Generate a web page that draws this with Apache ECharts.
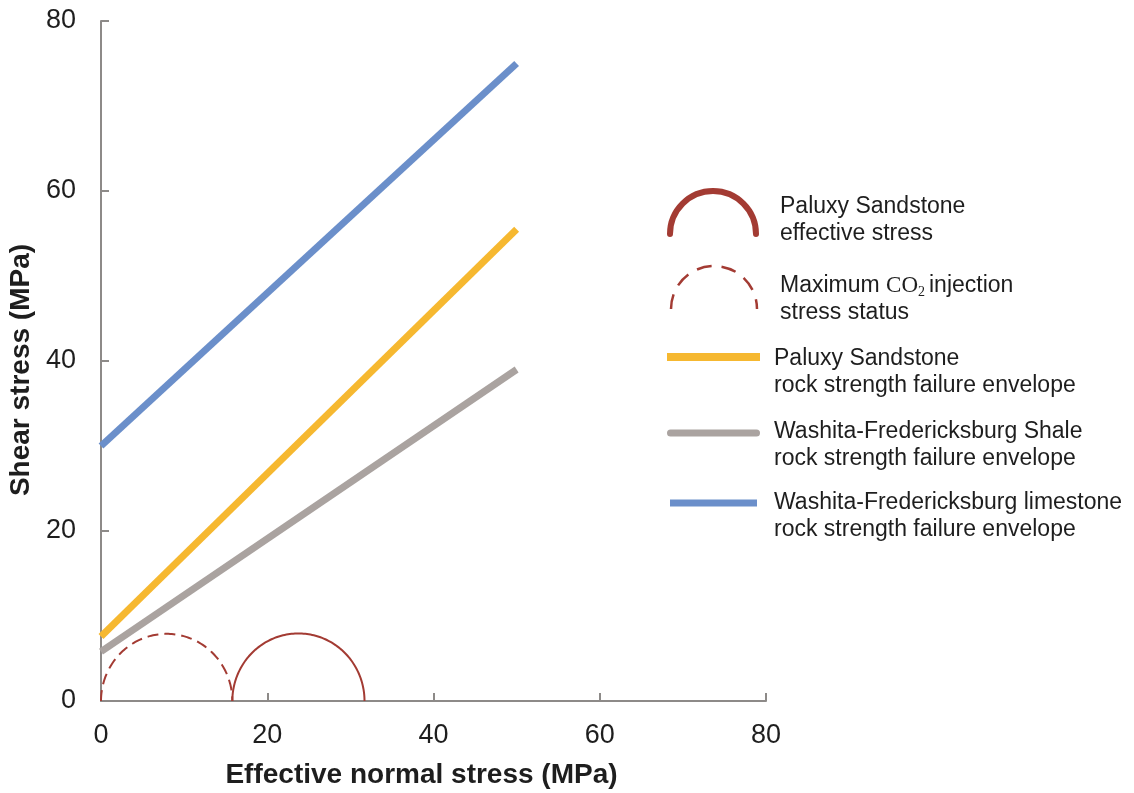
<!DOCTYPE html>
<html>
<head>
<meta charset="utf-8">
<script src="https://cdn.jsdelivr.net/npm/echarts@6/dist/echarts.min.js"></script>
<style>
  html, body { margin: 0; padding: 0; background: #ffffff; }
  #chart { width: 1134px; height: 793px; }
</style>
</head>
<body>
<div id="chart"></div>
<script>
// Mohr–Coulomb failure envelopes and Mohr circles (values in MPa)
const envelopeNormal = [0, 50];          // effective normal stress at envelope ends
const limestoneEnvelope = [30, 75];      // Washita-Fredericksburg limestone
const sandstoneEnvelope = [7.6, 55.5];   // Paluxy Sandstone
const shaleEnvelope = [5.8, 39];         // Washita-Fredericksburg Shale

// Mohr circles as [sigma3, sigma1]
const paluxyStress = [15.8, 31.7];       // Paluxy Sandstone effective stress
const co2InjectionStress = [0, 15.8];    // maximum CO2 injection stress status

const axisTicks = [0, 20, 40, 60, 80];

const FONT = "'Liberation Sans', Arial, Helvetica, sans-serif";
const SERIF = "'Liberation Serif', 'Times New Roman', serif";
const AXIS_COLOR = '#8d8a88';
const TEXT_COLOR = '#1e1e1e';
const RED = '#a33b33';
const COLORS = { limestone: '#6b8fca', sandstone: '#f6b830', shale: '#aaa3a0' };

function pairs(xs, ys) {
  return xs.map((x, i) => [x, ys[i]]);
}

// upper half of a Mohr circle, traced in data space through the axes
function mohrRenderer(dashed) {
  return function (params, api) {
    const s3 = api.value(0);
    const s1 = api.value(1);
    const c = (s1 + s3) / 2;
    const r = (s1 - s3) / 2;
    const pts = [];
    const n = 120;
    for (let i = 0; i <= n; i++) {
      const t = Math.PI * i / n;
      pts.push(api.coord([c - r * Math.cos(t), r * Math.sin(t)]));
    }
    return {
      type: 'polyline',
      shape: { points: pts },
      style: {
        stroke: RED,
        lineWidth: 2,
        fill: null,
        lineDash: dashed ? [11, 6] : null
      }
    };
  };
}

const chart = echarts.init(document.getElementById('chart'), null, { renderer: 'canvas' });

const legendText = {
  fontFamily: FONT,
  fontSize: 23,
  lineHeight: 27,
  fill: TEXT_COLOR,
  verticalAlign: 'top'
};

function legendLabel(text, left, top) {
  return { type: 'text', left: left, top: top, style: Object.assign({ text: text }, legendText) };
}

chart.setOption({
  animation: false,
  backgroundColor: '#ffffff',
  grid: { left: 101, right: 368, top: 21, bottom: 92, containLabel: false, outerBoundsMode: 'none' },
  xAxis: {
    type: 'value',
    min: axisTicks[0],
    max: axisTicks[axisTicks.length - 1],
    interval: 20,
    name: 'Effective normal stress (MPa)',
    nameLocation: 'middle',
    nameGap: 60,
    nameTextStyle: { fontFamily: FONT, fontSize: 28, fontWeight: 'bold', color: TEXT_COLOR, padding: [0, 24, 0, 0] },
    axisLine: { show: true, lineStyle: { color: AXIS_COLOR, width: 2 } },
    axisTick: { show: true, inside: true, length: 8, lineStyle: { color: AXIS_COLOR, width: 2 } },
    axisLabel: { margin: 21, fontFamily: FONT, fontSize: 27, color: TEXT_COLOR },
    splitLine: { show: false }
  },
  yAxis: {
    type: 'value',
    min: axisTicks[0],
    max: axisTicks[axisTicks.length - 1],
    interval: 20,
    name: 'Shear stress (MPa)',
    nameLocation: 'middle',
    nameGap: 66,
    nameTextStyle: { fontFamily: FONT, fontSize: 28, fontWeight: 'bold', color: TEXT_COLOR, padding: [0, 18, 0, 0] },
    axisLine: { show: true, lineStyle: { color: AXIS_COLOR, width: 2 } },
    axisTick: { show: true, inside: true, length: 8, lineStyle: { color: AXIS_COLOR, width: 2 } },
    axisLabel: { margin: 25, fontFamily: FONT, fontSize: 27, color: TEXT_COLOR },
    splitLine: { show: false }
  },
  series: [
    {
      name: 'Maximum CO2 injection stress status',
      type: 'custom',
      renderItem: mohrRenderer(true),
      data: [co2InjectionStress],
      encode: { x: 0, y: 1 },
      z: 3
    },
    {
      name: 'Paluxy Sandstone effective stress',
      type: 'custom',
      renderItem: mohrRenderer(false),
      data: [paluxyStress],
      encode: { x: 0, y: 1 },
      z: 3
    },
    {
      name: 'Washita-Fredericksburg Shale rock strength failure envelope',
      type: 'line',
      data: pairs(envelopeNormal, shaleEnvelope),
      showSymbol: false,
      lineStyle: { color: COLORS.shale, width: 7, cap: 'butt' },
      z: 2
    },
    {
      name: 'Paluxy Sandstone rock strength failure envelope',
      type: 'line',
      data: pairs(envelopeNormal, sandstoneEnvelope),
      showSymbol: false,
      lineStyle: { color: COLORS.sandstone, width: 7, cap: 'butt' },
      z: 2
    },
    {
      name: 'Washita-Fredericksburg limestone rock strength failure envelope',
      type: 'line',
      data: pairs(envelopeNormal, limestoneEnvelope),
      showSymbol: false,
      lineStyle: { color: COLORS.limestone, width: 7, cap: 'butt' },
      z: 2
    }
  ],
  graphic: [
    // key: effective stress circle
    {
      type: 'arc',
      shape: { cx: 713, cy: 234, r: 43, startAngle: Math.PI, endAngle: 2 * Math.PI, clockwise: true },
      style: { stroke: RED, lineWidth: 6, fill: null, lineCap: 'round' }
    },
    legendLabel('Paluxy Sandstone\neffective stress', 780, 193),
    // key: CO2 injection circle
    {
      type: 'arc',
      shape: { cx: 714, cy: 309, r: 43, startAngle: Math.PI, endAngle: 2 * Math.PI, clockwise: true },
      style: { stroke: RED, lineWidth: 2.5, fill: null, lineDash: [15, 10] }
    },
    {
      type: 'text', left: 780, top: 273,
      style: {
        text: '{t|Maximum }{co|CO}{sub|2}{t|injection}\n{t|stress status}',
        fill: TEXT_COLOR,
        rich: {
          t: { fontFamily: FONT, fontSize: 23, lineHeight: 27, fill: TEXT_COLOR },
          co: { fontFamily: SERIF, fontSize: 23, lineHeight: 27, fill: TEXT_COLOR },
          sub: { fontFamily: SERIF, fontSize: 14, lineHeight: 27, padding: [12, 4, 0, 0], fill: TEXT_COLOR }
        }
      }
    },
    // key: sandstone envelope
    {
      type: 'rect', shape: { x: 667, y: 353, width: 93, height: 8 },
      style: { fill: COLORS.sandstone }
    },
    legendLabel('Paluxy Sandstone\nrock strength failure envelope', 774, 345),
    // key: shale envelope
    {
      type: 'rect', shape: { x: 667, y: 429.5, width: 93, height: 7, r: 3.5 },
      style: { fill: COLORS.shale }
    },
    legendLabel('Washita-Fredericksburg Shale\nrock strength failure envelope', 774, 418),
    // key: limestone envelope
    {
      type: 'rect', shape: { x: 670, y: 499.5, width: 87, height: 7 },
      style: { fill: COLORS.limestone }
    },
    legendLabel('Washita-Fredericksburg limestone\nrock strength failure envelope', 774, 489)
  ]
});
</script>
</body>
</html>
